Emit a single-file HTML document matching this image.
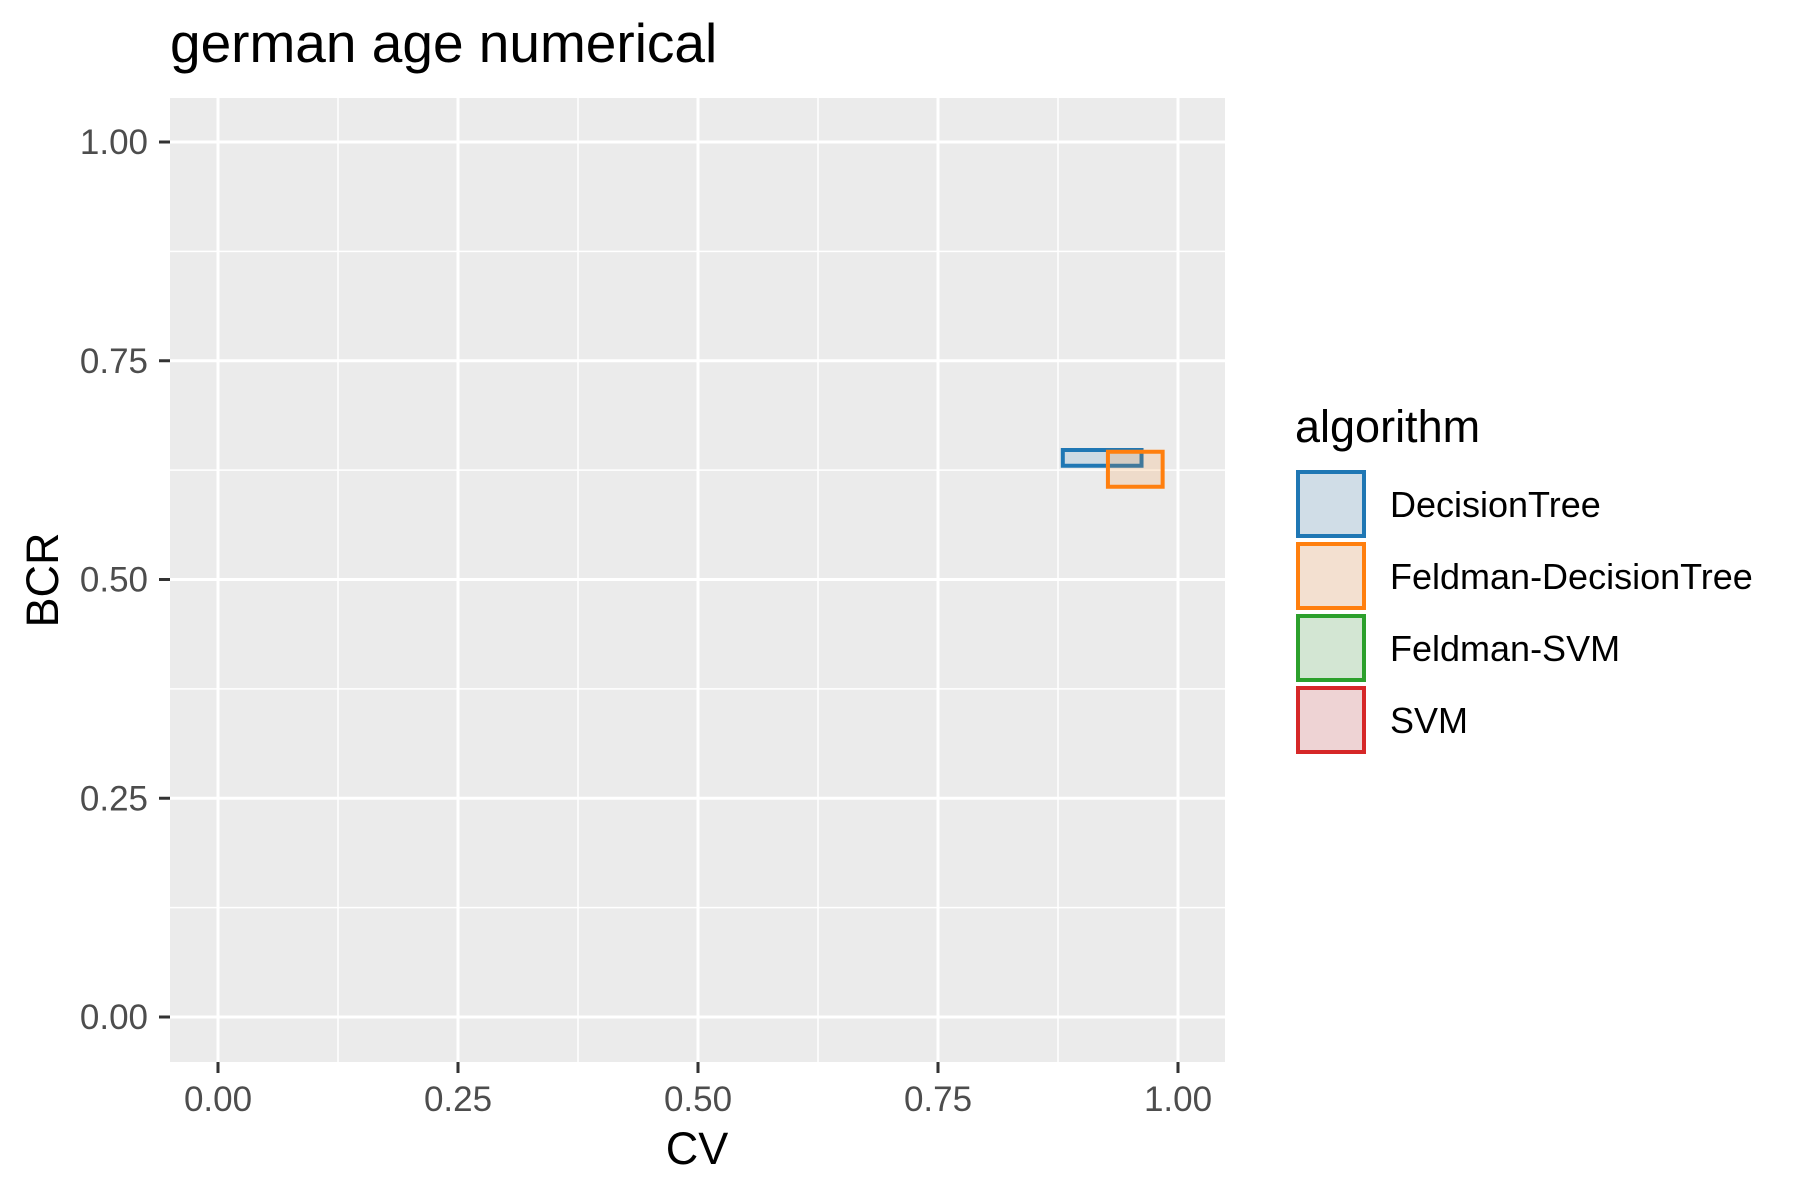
<!DOCTYPE html>
<html><head><meta charset="utf-8"><style>
body{margin:0;background:#fff}
svg{display:block;font-family:"Liberation Sans",Arial,sans-serif}
</style></head><body>
<svg width="1800" height="1200" viewBox="0 0 1800 1200">
<text x="170" y="62" font-size="55" fill="#000">german age numerical</text>
<rect x="170" y="98" width="1055" height="964" fill="#ebebeb"/>
<g id="grid"></g>
<g id="marks"></g>
<g id="axes"></g>
<text x="697" y="1164" font-size="45" text-anchor="middle" fill="#000">CV</text>
<text transform="translate(58,580) rotate(-90)" font-size="45" text-anchor="middle" fill="#000">BCR</text>
<text x="1295" y="442" font-size="45" fill="#000">algorithm</text>
<g id="legend"></g>
</svg>
<script>
const categories=["DecisionTree","Feldman-DecisionTree","Feldman-SVM","SVM"];
const colors=["#1f77b4","#ff7f0e","#2ca02c","#d62728"];
const fills=["#d0dde7","#f3e0d0","#d3e6d3","#eed3d4"];
const xmin=[0.880,0.927];
const xmax=[0.962,0.984];
const ymin=[0.630,0.606];
const ymax=[0.648,0.646];
const ticks=[0,0.25,0.5,0.75,1];
const tickLabels=["0.00","0.25","0.50","0.75","1.00"];
const NS="http://www.w3.org/2000/svg";
const X=v=>218+v*960, Y=v=>1017-v*875;
function mk(t,a,p){const e=document.createElementNS(NS,t);for(const k in a)e.setAttribute(k,a[k]);p.appendChild(e);return e;}
const g=document.getElementById('grid'),ax=document.getElementById('axes'),m=document.getElementById('marks'),lg=document.getElementById('legend');
for(let i=0;i<ticks.length-1;i++){const v=(ticks[i]+ticks[i+1])/2;
 let l=mk('line',{x1:X(v),x2:X(v),y1:98,y2:1062,stroke:'#fff','stroke-width':1.5},g);
 
 
 l=mk('line',{x1:170,x2:1225,y1:Y(v),y2:Y(v),stroke:'#fff','stroke-width':1.5},g);
 
 }
ticks.forEach((v,i)=>{
 let l=mk('line',{x1:X(v),x2:X(v),y1:98,y2:1062,stroke:'#fff','stroke-width':3},g);
 
 
 l=mk('line',{x1:170,x2:1225,y1:Y(v),y2:Y(v),stroke:'#fff','stroke-width':3},g);
 
 
 l=mk('line',{x1:X(v),x2:X(v),y1:1062,y2:1073,stroke:'#333','stroke-width':3},ax);
 
 
 l=mk('line',{x1:159,x2:170,y1:Y(v),y2:Y(v),stroke:'#333','stroke-width':3},ax);
 
 
 let t=mk('text',{x:X(v),y:1111,'font-size':35,'text-anchor':'middle',fill:'#4d4d4d'},ax);t.textContent=tickLabels[i];
 
 
 t=mk('text',{x:148,y:Y(v)+12,'font-size':35,'text-anchor':'end',fill:'#4d4d4d'},ax);t.textContent=tickLabels[i];
 
 
});
xmin.forEach((v,i)=>{
 const r=mk('rect',{x:X(v),y:Y(ymax[i]),width:X(xmax[i])-X(v),height:Y(ymin[i])-Y(ymax[i]),fill:colors[i],'fill-opacity':0.15,stroke:colors[i],'stroke-width':4},m);
 
 
});
categories.forEach((c,i)=>{
 const y=472+i*72;
 const r=mk('rect',{x:1298,y:y,width:66,height:64,fill:fills[i],stroke:colors[i],'stroke-width':4},lg);
 
 
 const t=mk('text',{x:1390,y:y+45,'font-size':36,fill:'#000'},lg);t.textContent=c;
 
 
});
</script>
</body></html>
